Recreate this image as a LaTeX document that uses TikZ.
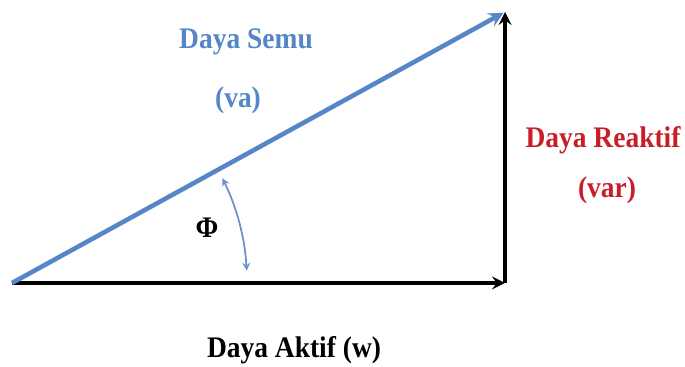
\documentclass[tikz,border=0pt]{standalone}
\usepackage{fontspec}
\setmainfont{Liberation Serif}
\definecolor{semublue}{RGB}{84,134,200}
\definecolor{arcblue}{RGB}{110,145,200}
\definecolor{reaktifred}{RGB}{200,30,40}
\begin{document}
\begin{tikzpicture}[x=0.02cm, y=0.02cm, >=stealth,
    txt/.style={font=\bfseries\fontsize{17}{20}\selectfont, xscale=0.92, inner sep=0pt}]
    \useasboundingbox (0,0) rectangle (685,367);
    \coordinate (O) at (12,84);
    \coordinate (P) at (505,84);
    \coordinate (Q) at (505,355);
    \draw[->, line width=2.2pt] (O) -- (P);
    \draw[->, line width=2.2pt] (P) -- (Q);
    \draw[->, semublue, line width=2.6pt, shorten >=1pt] (O) -- (Q);
    \draw[<->, arcblue, line width=1pt] (O) ++(3:235) arc (3:26.5:235);
    \node[txt] (phi) at (207,139) {Φ};
    \node[txt, semublue] (semu) at (246,325) {Daya Semu};
    \node[txt, semublue] (va) at (238,267) {(va)};
    \node[txt, reaktifred] (reaktif) at (603,227) {Daya Reaktif};
    \node[txt, reaktifred] (var) at (607,177) {(var)};
    \node[txt] (aktif) at (294,17) {Daya Aktif (w)};
\end{tikzpicture}
\end{document}
